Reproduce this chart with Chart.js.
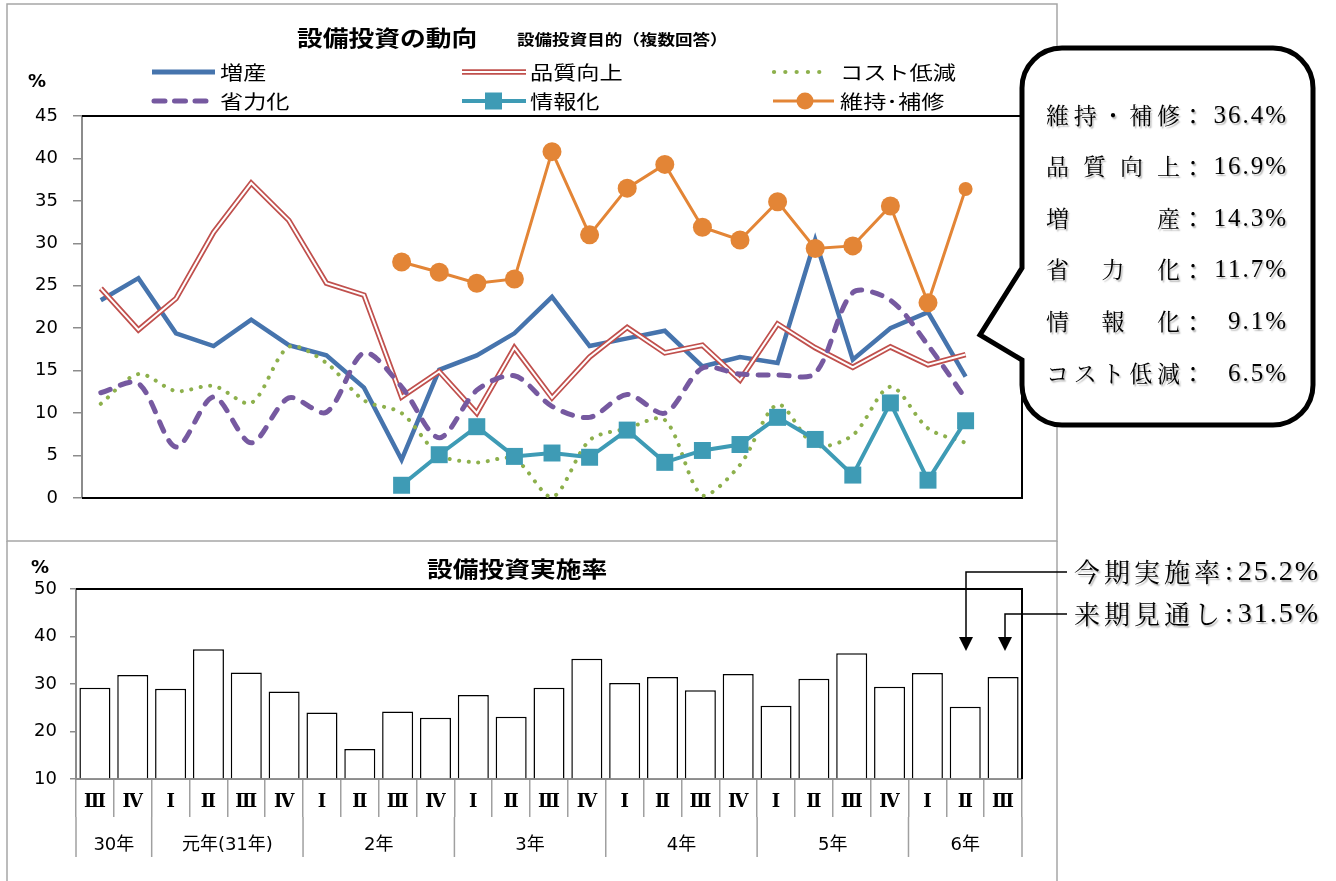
<!DOCTYPE html>
<html><head><meta charset="utf-8">
<script src="https://cdn.jsdelivr.net/npm/chart.js@4.4.1/dist/chart.umd.min.js"></script>
<style>
html,body{margin:0;padding:0;background:#fff;}
body{width:1336px;height:881px;position:relative;overflow:hidden;font-family:"Noto Sans CJK JP","DejaVu Sans",sans-serif;color:#000;}
canvas{position:absolute;}
#c1{left:0;top:0;}
#c2{left:0;top:540px;}
#ov{position:absolute;left:0;top:0;}
.t{position:absolute;white-space:nowrap;line-height:1;}
</style></head><body>
<canvas id="c1" width="1060" height="540" style="width:1060px;height:540px"></canvas>
<canvas id="c2" width="1060" height="341" style="width:1060px;height:341px"></canvas>
<svg id="ov" width="1336" height="881" xmlns="http://www.w3.org/2000/svg">
  <!-- panel frames -->
  <rect x="7" y="4" width="1050" height="537" fill="none" stroke="#a6a6a6" stroke-width="1.5"/>
  <path d="M7 541 V 890 M1057 541 V 890" fill="none" stroke="#a6a6a6" stroke-width="1.5"/>
  <!-- legend samples -->
  <line x1="152" y1="72" x2="215" y2="72" stroke="#4674ad" stroke-width="5"/>
  <line x1="462" y1="72" x2="526" y2="72" stroke="#c0504d" stroke-width="5.5"/>
  <line x1="462" y1="72" x2="526" y2="72" stroke="#fff" stroke-width="2"/>
  <line x1="774" y1="72" x2="830" y2="72" stroke="#8db04c" stroke-width="4.2" stroke-linecap="round" stroke-dasharray="0.1 11.2"/>
  <line x1="154" y1="101" x2="210" y2="101" stroke="#7659a0" stroke-width="5" stroke-linecap="round" stroke-dasharray="11 9.5"/>
  <line x1="462" y1="101" x2="526" y2="101" stroke="#3e9bb5" stroke-width="4"/>
  <rect x="485" y="92.5" width="17" height="17" fill="#3e9bb5"/>
  <line x1="773" y1="101" x2="834" y2="101" stroke="#e38536" stroke-width="3"/>
  <circle cx="805" cy="101" r="8.5" fill="#e38536"/>
  <!-- callout -->
  <path d="M1062 48 H1273 A40 40 0 0 1 1313 88 V385 A40 40 0 0 1 1273 425 H1062 A40 40 0 0 1 1022 385 V360 L980 335 L1022 268 V88 A40 40 0 0 1 1062 48 Z" fill="#fff" stroke="#000" stroke-width="5" stroke-linejoin="miter"/>
  <!-- arrows -->
  <path d="M1067 572 H966 V640 M1067 614 H1005 V640" fill="none" stroke="#000" stroke-width="1.5"/>
  <polygon points="959,637 973,637 966,651" fill="#000"/>
  <polygon points="998,637 1012,637 1005,651" fill="#000"/>
</svg>
<script>
// ---------- data ----------
const quarters = ['Ⅲ','Ⅳ','Ⅰ','Ⅱ','Ⅲ','Ⅳ','Ⅰ','Ⅱ','Ⅲ','Ⅳ','Ⅰ','Ⅱ','Ⅲ','Ⅳ','Ⅰ','Ⅱ','Ⅲ','Ⅳ','Ⅰ','Ⅱ','Ⅲ','Ⅳ','Ⅰ','Ⅱ','Ⅲ'];
const years = ['30年','元年(31年)','2年','3年','4年','5年','6年'];
const yearSpans = [2,4,4,4,4,4,3];

const zousan     = [23.3,25.9,19.4,17.9,21.0,18.0,16.8,13.0,4.5,15.1,16.8,19.4,23.7,17.9,18.8,19.7,15.5,16.6,15.9,30.4,16.3,20.0,21.9,14.3,null];
const hinshitsu  = [24.7,19.8,23.5,31.3,37.1,32.7,25.3,23.9,11.9,14.9,10.0,17.7,11.8,16.6,20.1,17.1,18.0,13.9,20.5,17.7,15.4,17.8,15.7,16.9,null];
const costTeigen = [11.1,14.6,12.6,13.2,11.2,17.8,15.9,11.5,10.0,5.1,4.2,4.6,0.1,6.8,8.2,9.2,0.3,3.9,11.0,6.2,7.4,13.1,8.2,6.5,null];
const shoryokuka = [12.4,13.5,6.0,11.9,6.5,11.8,10.1,17.1,13.1,7.1,12.7,14.4,10.8,9.5,12.2,10.0,15.3,14.6,14.5,14.7,24.2,23.3,18.0,11.7,null];
const johoka     = [null,null,null,null,null,null,null,null,1.5,5.1,8.4,4.9,5.3,4.8,8.0,4.2,5.6,6.3,9.5,6.9,2.7,11.2,2.1,9.1,null];
const ijiHoshu   = [null,null,null,null,null,null,null,null,27.8,26.6,25.3,25.8,40.8,31.0,36.5,39.3,31.9,30.4,34.9,29.4,29.7,34.4,23.0,36.4,null];

const jisshiRitsu = [29.2,31.9,29.0,37.3,32.4,28.4,24.0,16.3,24.2,22.9,27.7,23.1,29.2,35.3,30.2,31.5,28.7,32.1,25.4,31.1,36.5,29.4,32.3,25.2,31.5];

const calloutLabels = ['維持・補修','品質向上','増産','省力化','情報化','コスト低減'];
const calloutValues = ['36.4%','16.9%','14.3%','11.7%','9.1%','6.5%'];
const noteLabels = ['今期実施率','来期見通し'];
const noteValues = ['25.2%','31.5%'];
const legendNames = ['増産','品質向上','コスト低減','省力化','情報化','維持･補修'];

// ---------- colours ----------
const BLUE='#4674ad', RED='#c0504d', GREEN='#8db04c', PURPLE='#7659a0', TEAL='#3e9bb5', ORANGE='#e38536';
const NUMFONT = '"DejaVu Sans", "Noto Sans CJK JP"';

// ---------- text helper ----------
function put(text, x, cy, size, o) {
  o = o || {};
  const d = document.createElement('div');
  d.className = 't';
  d.textContent = text;
  d.style.fontSize = size + 'px';
  d.style.left = x + 'px';
  d.style.top = (cy - size * 0.54) + 'px';
  if (o.bold) d.style.fontWeight = 'bold';
  if (o.family) d.style.fontFamily = o.family;
  if (o.sx) { d.style.transform = 'scaleX(' + o.sx + ')'; d.style.transformOrigin = 'left center'; }
  if (o.width) { d.style.width = o.width + 'px'; d.style.textAlign = o.align || 'left'; if (o.align === 'justify') d.style.textAlignLast = 'justify'; }
  if (o.ls) d.style.letterSpacing = o.ls + 'px';
  if (o.shadow) d.style.textShadow = '1.5px 1.5px 1.5px rgba(0,0,0,0.28)';
  document.body.appendChild(d);
}

// titles
put('設備投資の動向', 297, 37, 22, {bold:true, sx:1.17});
put('設備投資目的（複数回答）', 517, 39, 15, {bold:true, sx:1.17});
put('%', 28, 82, 18, {bold:true, family:'"DejaVu Sans"'});
put('設備投資実施率', 427, 568, 22, {bold:true, sx:1.17});
put('%', 31, 568, 18, {bold:true, family:'"DejaVu Sans"'});

// legend text
const legX = [220, 530, 840];
const legY = [72, 101];
legendNames.forEach((n, i) => put(n, legX[i % 3], legY[Math.floor(i / 3)], 19, {sx:1.22}));

// callout
calloutLabels.forEach((lab, i) => {
  const cy = 115 + i * 51.6;
  put(lab, 1046, cy, 23, {width:134, align:'justify', shadow:true, family:'"Noto Serif CJK JP","Noto Sans CJK JP"'});
  put('：', 1182, cy, 22, {shadow:true});
  put(calloutValues[i], 1196, cy, 25, {width:92, align:'right', family:'"Liberation Serif"', ls:2, shadow:true});
});
// notes at right of bar chart
noteLabels.forEach((lab, i) => {
  const cy = 572 + i * 42;
  put(lab, 1074, cy, 26, {ls:4, shadow:true, family:'"Noto Serif CJK JP","Noto Sans CJK JP"'});
  put(':', 1225, cy, 28, {family:'"Liberation Serif"', shadow:true});
  put(noteValues[i], 1234, cy, 28, {width:86, align:'right', family:'"Liberation Serif"', ls:2, shadow:true});
});

// ---------- plugins ----------
const plotFrame = {
  id: 'plotFrame',
  beforeDatasetsDraw(chart, args, opts) {
    const {ctx, chartArea: a} = chart;
    ctx.save();
    ctx.strokeStyle = '#000';
    ctx.lineWidth = 2;
    ctx.beginPath();
    if (opts.bottom) { ctx.moveTo(a.left, a.bottom); ctx.lineTo(a.right, a.bottom); } else { ctx.moveTo(a.right, a.bottom); }
    ctx.lineTo(a.right, a.top);
    ctx.lineTo(a.left, a.top);
    ctx.stroke();
    ctx.restore();
  }
};

const yearRow = {
  id: 'yearRow',
  afterDraw(chart) {
    const {ctx} = chart;
    const x = chart.scales.x;
    const top = x.top;
    const bounds = [0];
    let b = 0;
    yearSpans.forEach(n => { b += n; bounds.push(b); });
    ctx.save();
    ctx.strokeStyle = '#a0a0a0';
    ctx.lineWidth = 1.5;
    bounds.forEach(bi => {
      const px = x.getPixelForValue(bi - 0.5);
      ctx.beginPath(); ctx.moveTo(px, top + 38); ctx.lineTo(px, top + 78); ctx.stroke();
    });
    ctx.fillStyle = '#000';
    ctx.font = '18px ' + NUMFONT;
    ctx.textAlign = 'center';
    ctx.textBaseline = 'middle';
    years.forEach((yl, i) => {
      const l = x.getPixelForValue(bounds[i] - 0.5), r = x.getPixelForValue(bounds[i + 1] - 0.5);
      ctx.fillText(yl, (l + r) / 2, top + 66);
    });
    ctx.restore();
  }
};

// ---------- top chart ----------
new Chart(document.getElementById('c1'), {
  type: 'line',
  data: {
    labels: quarters,
    datasets: [
      {label:'維持・補修', data:ijiHoshu, borderColor:ORANGE, backgroundColor:ORANGE, borderWidth:3,
       pointStyle:'circle', pointRadius:(c) => c.dataIndex === 23 ? 7 : 9.5, pointBorderWidth:0, order:0},
      {label:'情報化', data:johoka, borderColor:TEAL, backgroundColor:TEAL, borderWidth:4,
       pointStyle:'rect', pointRadius:12, pointBorderWidth:0, order:1},
      {label:'省力化', data:shoryokuka, borderColor:PURPLE, borderWidth:5, borderDash:[10,11], borderCapStyle:'round',
       pointRadius:0, tension:0.3, order:2},
      {label:'コスト低減', data:costTeigen, borderColor:GREEN, borderWidth:4, borderDash:[0.1,9.5], borderCapStyle:'round',
       pointRadius:0, tension:0.3, order:3},
      {label:'品質向上', data:hinshitsu, borderColor:'#fff', borderWidth:2, pointRadius:0, order:4},
      {label:'品質向上', data:hinshitsu, borderColor:RED, borderWidth:5.5, pointRadius:0, order:5},
      {label:'増産', data:zousan, borderColor:BLUE, borderWidth:4.5, pointRadius:0, order:6}
    ]
  },
  options: {
    responsive:false, animation:false,
    plugins:{legend:{display:false}, tooltip:{enabled:false}, plotFrame:{bottom:true}},
    layout:{padding:{left:0, right:38, top:116, bottom:42}},
    scales:{
      x:{type:'category', offset:true, grid:{display:false}, ticks:{display:false}, border:{display:false},
         afterFit(s){ s.height = 0; }},
      y:{min:0, max:45, ticks:{stepSize:5, color:'#000', padding:15, font:{family:NUMFONT, size:18}},
         grid:{drawOnChartArea:false, tickLength:9, color:'#8c8c8c', lineWidth:1.5},
         border:{color:'#8c8c8c', width:2},
         afterFit(s){ s.width = 82; }}
    }
  },
  plugins:[plotFrame]
});

// ---------- bottom chart ----------
new Chart(document.getElementById('c2'), {
  type: 'bar',
  data: {
    labels: quarters,
    datasets: [{label:'設備投資実施率', data:jisshiRitsu, base:10, backgroundColor:'#fff', borderColor:'#000', borderWidth:1.5,
      barPercentage:0.82, categoryPercentage:1}]
  },
  options: {
    responsive:false, animation:false,
    plugins:{legend:{display:false}, tooltip:{enabled:false}, plotFrame:{bottom:false}},
    layout:{padding:{left:0, right:38, top:49, bottom:0}},
    scales:{
      x:{grid:{offset:true, drawOnChartArea:false, tickLength:38, color:'#a0a0a0', lineWidth:1.5},
         border:{color:'#8c8c8c', width:2},
         ticks:{color:'#000', padding:-25, maxRotation:0, autoSkip:false, font:{family:'"DejaVu Serif", "Noto Sans CJK JP"', size:18, weight:'bold'}},
         afterFit(s){ s.height = 102; }},
      y:{min:10, max:50, ticks:{stepSize:10, color:'#000', padding:13, font:{family:NUMFONT, size:18}},
         grid:{drawOnChartArea:false, tickLength:6, color:'#8c8c8c', lineWidth:1.5},
         border:{color:'#8c8c8c', width:2},
         afterFit(s){ s.width = 76; }}
    }
  },
  plugins:[plotFrame, yearRow]
});
</script>
</body></html>
